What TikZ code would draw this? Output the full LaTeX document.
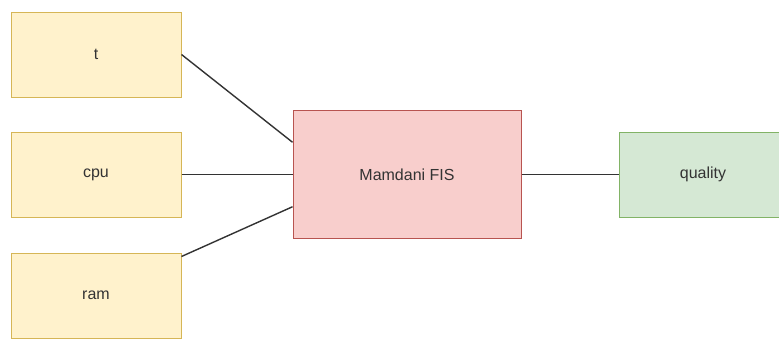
\documentclass[tikz,border=0pt]{standalone}
\usepackage{fontspec}
\setmainfont{Liberation Sans}
\usetikzlibrary{calc}
\definecolor{yfill}{HTML}{FFF2CC}
\definecolor{ydraw}{HTML}{D6B656}
\definecolor{rfill}{HTML}{F8CECC}
\definecolor{rdraw}{HTML}{B85450}
\definecolor{gfill}{HTML}{D5E8D4}
\definecolor{gdraw}{HTML}{82B366}
\definecolor{linec}{HTML}{333333}
\definecolor{textc}{HTML}{333333}
\begin{document}
\begin{tikzpicture}[x=1pt,y=-1pt,
  box/.style={rectangle,inner sep=0pt,line width=1pt,font=\fontsize{16}{19}\selectfont,text=textc},
  ybox/.style={box,fill=yfill,draw=ydraw,minimum width=170pt,minimum height=85pt},
  rbox/.style={box,fill=rfill,draw=rdraw,minimum width=228pt,minimum height=128pt},
  gbox/.style={box,fill=gfill,draw=gdraw,minimum width=168pt,minimum height=85pt},
  conn/.style={draw=linec,line width=1.4pt}]
\useasboundingbox (0,0) rectangle (779,338);
\clip (0,0) rectangle (779,338);
\fill[white] (0,0) rectangle (779,338);
\node[ybox] (t) at (96,54.5) {t};
\node[ybox] (cpu) at (96,174.5) {cpu};
\node[ybox] (ram) at (96,295.5) {ram};
\node[rbox] (m) at (407,174.5) {Mamdani FIS};
\node[gbox] (q) at (703,174.5) {quality};
\coordinate (m1) at ($(m.north west)!0.25!(m.south west)$);
\coordinate (m3) at ($(m.north west)!0.75!(m.south west)$);
\coordinate (r1) at ($(ram.north east)+(0,4)$);
\draw[conn] (t.east) -- (m1);
\draw[conn] (cpu.east) -- (cpu.east -| m.west);
\draw[conn] (r1) -- (m3);
\draw[conn] (m.east) -- (q.west);
\end{tikzpicture}
\end{document}
